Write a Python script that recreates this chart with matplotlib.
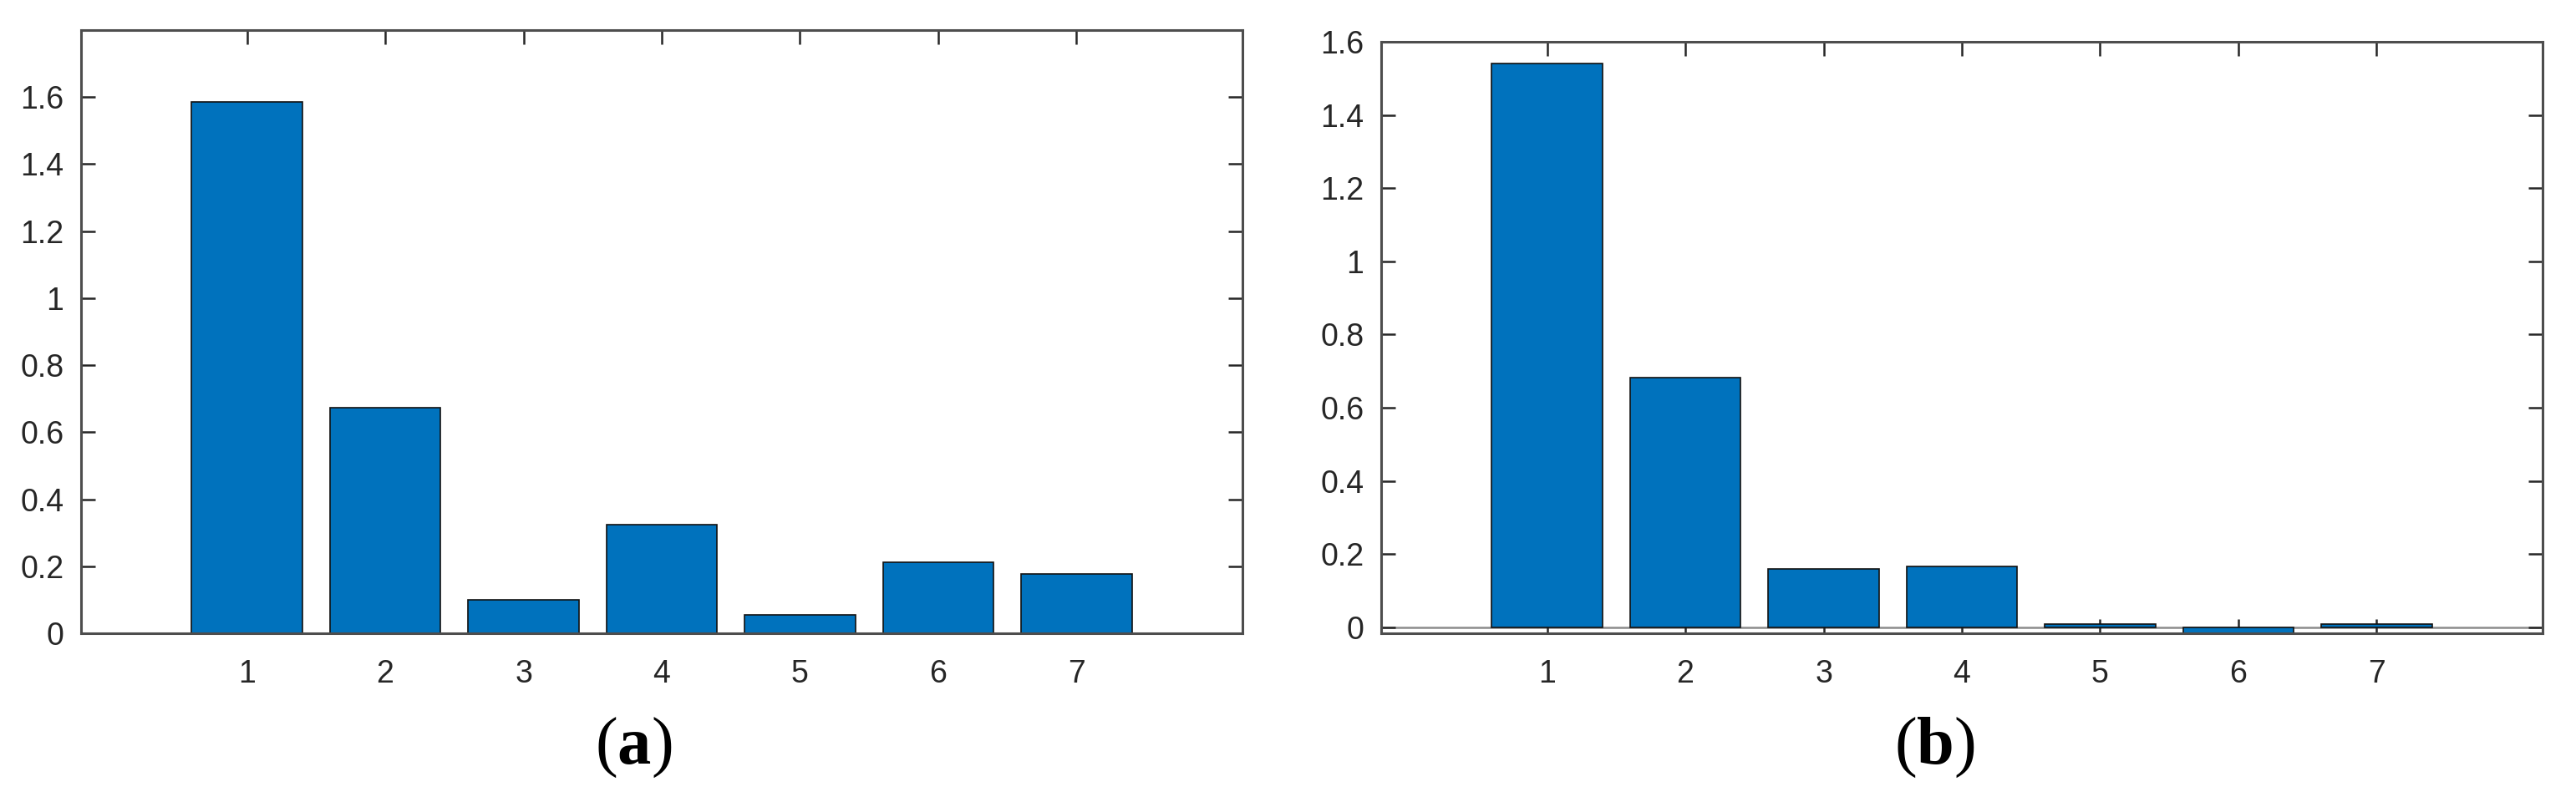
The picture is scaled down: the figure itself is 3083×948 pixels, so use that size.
import matplotlib
matplotlib.use("Agg")
import matplotlib.pyplot as plt
from matplotlib.ticker import FuncFormatter

# bar heights
idx = [1, 2, 3, 4, 5, 6, 7]
vals_a = [1.585, 0.673, 0.10, 0.325, 0.056, 0.212, 0.177]
vals_b = [1.540, 0.681, 0.159, 0.165, 0.009, -0.018, 0.009]
yticks = [0, 0.2, 0.4, 0.6, 0.8, 1.0, 1.2, 1.4, 1.6]

plt.rcParams['font.family'] = ['Liberation Sans', 'DejaVu Sans']
plt.rcParams['mathtext.fontset'] = 'custom'
plt.rcParams['mathtext.rm'] = 'Liberation Serif'
plt.rcParams['mathtext.bf'] = 'Liberation Serif:bold'

W, H = 3083, 948
fig = plt.figure(figsize=(W / 100, H / 100), dpi=100)

def box(x0, y0, x1, y1):
    return [x0 / W, 1 - y1 / H, (x1 - x0) / W, (y1 - y0) / H]

ax_a = fig.add_axes(box(97, 36, 1487, 758))
ax_b = fig.add_axes(box(1653, 50, 3043, 758))

def style(ax, vals, ylim):
    ax.bar(idx, vals, width=0.8, color='#0072BD', edgecolor='#111111', linewidth=1.2, zorder=2)
    ax.set_xlim(-0.2, 8.2)
    ax.set_ylim(*ylim)
    ax.set_xticks(idx)
    ax.set_yticks(yticks)
    ax.yaxis.set_major_formatter(FuncFormatter(lambda v, p: f"{v:g}"))
    ax.tick_params(direction='in', length=12, width=1.8, colors='#262626',
                   labelsize=27, top=True, right=True, zorder=3)
    ax.tick_params(axis='y', pad=15)
    ax.tick_params(axis='x', pad=22)
    for s in ax.spines.values():
        s.set_color('#4d4d4d')
        s.set_linewidth(2.2)
        s.set_zorder(4)

style(ax_a, vals_a, (0, 1.8))
style(ax_b, vals_b, (-0.0167, 1.6))
ax_b.axhline(0, color='#8c8c8c', linewidth=1.8, zorder=1)

fig.text(758 / W, 1 - 895 / H, r'$\mathrm{(}\mathbf{a}\mathrm{)}$', ha='center', va='center', fontsize=58)
fig.text(2315 / W, 1 - 895 / H, r'$\mathrm{(}\mathbf{b}\mathrm{)}$', ha='center', va='center', fontsize=58)

fig.savefig('out.png', dpi=100, facecolor='white')
